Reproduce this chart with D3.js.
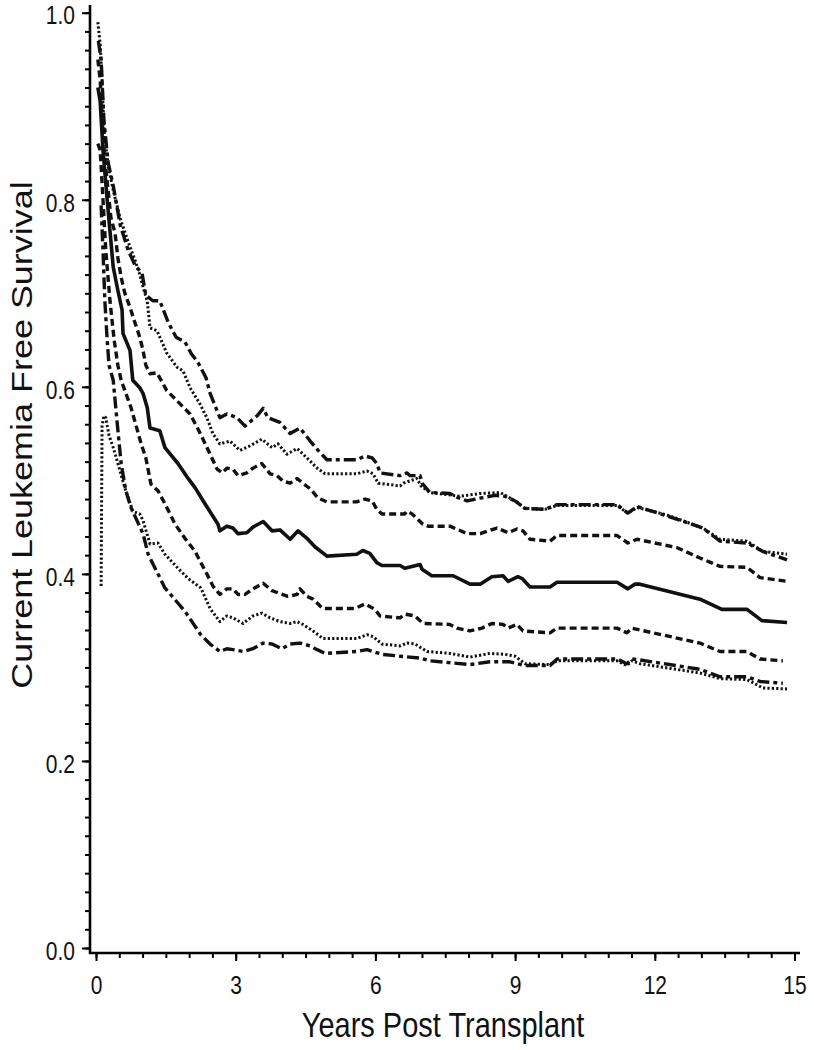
<!DOCTYPE html>
<html><head><meta charset="utf-8">
<script src="https://cdn.jsdelivr.net/npm/d3@7"></script>
<style>body{margin:0;background:#fff}</style>
</head><body><svg id="c" width="814" height="1050"></svg>
<script>
const xTicks = [0, 3, 6, 9, 12, 15];
const yTicks = [0.0, 0.2, 0.4, 0.6, 0.8, 1.0];
const xLabel = "Years Post Transplant";
const yLabel = "Current Leukemia Free Survival";

// [years, survival]
const estimate = [[0.04,0.92],[0.09,0.905],[0.15,0.853],[0.24,0.80],[0.37,0.728],[0.47,0.703],[0.56,0.682],[0.58,0.657],[0.73,0.639],[0.79,0.607],[0.94,0.599],[1.01,0.593],[1.10,0.578],[1.16,0.556],[1.37,0.553],[1.48,0.535],[1.76,0.518],[1.95,0.504],[2.13,0.492],[2.34,0.475],[2.62,0.453],[2.66,0.446],[2.81,0.451],[2.94,0.449],[3.05,0.443],[3.24,0.444],[3.37,0.450],[3.59,0.456],[3.78,0.446],[3.95,0.447],[4.17,0.437],[4.34,0.446],[4.53,0.438],[4.70,0.429],[4.96,0.419],[5.60,0.421],[5.73,0.425],[5.88,0.422],[6.03,0.412],[6.14,0.409],[6.53,0.409],[6.63,0.406],[6.96,0.410],[7.00,0.405],[7.21,0.398],[7.67,0.398],[8.03,0.389],[8.25,0.389],[8.50,0.397],[8.74,0.398],[8.85,0.392],[9.06,0.397],[9.15,0.395],[9.32,0.386],[9.75,0.386],[9.90,0.391],[11.19,0.391],[11.42,0.384],[11.57,0.389],[11.68,0.389],[12.97,0.373],[13.44,0.362],[13.98,0.362],[14.30,0.350],[14.84,0.348]];

const upperDashed = [[0.04,0.95],[0.09,0.928],[0.17,0.853],[0.26,0.81],[0.32,0.781],[0.41,0.764],[0.47,0.738],[0.54,0.717],[0.62,0.70],[0.73,0.685],[0.84,0.668],[0.94,0.653],[1.01,0.639],[1.07,0.623],[1.16,0.614],[1.31,0.615],[1.52,0.596],[1.80,0.582],[2.02,0.571],[2.23,0.551],[2.45,0.528],[2.60,0.512],[2.71,0.508],[2.81,0.513],[2.94,0.512],[3.05,0.505],[3.24,0.508],[3.37,0.513],[3.56,0.518],[3.74,0.507],[3.89,0.505],[4.02,0.499],[4.17,0.497],[4.32,0.502],[4.44,0.497],[4.60,0.491],[4.77,0.481],[4.96,0.477],[5.60,0.477],[5.78,0.480],[5.93,0.478],[6.03,0.469],[6.14,0.464],[6.63,0.464],[6.68,0.467],[6.79,0.464],[7.02,0.453],[7.13,0.451],[7.60,0.451],[7.97,0.443],[8.25,0.443],[8.61,0.449],[8.85,0.444],[9.04,0.448],[9.17,0.446],[9.32,0.437],[9.75,0.435],[9.90,0.441],[11.19,0.441],[11.42,0.433],[11.62,0.437],[12.48,0.428],[12.97,0.417],[13.40,0.408],[13.98,0.407],[14.26,0.396],[14.84,0.392]];

const lowerDashed = [[0.04,0.86],[0.09,0.853],[0.15,0.80],[0.21,0.746],[0.30,0.692],[0.39,0.650],[0.47,0.623],[0.54,0.607],[0.75,0.578],[0.97,0.539],[1.07,0.524],[1.18,0.496],[1.33,0.489],[1.48,0.475],[1.70,0.453],[1.91,0.438],[2.13,0.424],[2.23,0.414],[2.38,0.400],[2.51,0.387],[2.66,0.378],[2.81,0.384],[2.94,0.384],[3.05,0.378],[3.20,0.378],[3.37,0.384],[3.59,0.390],[3.78,0.382],[3.95,0.379],[4.12,0.376],[4.32,0.378],[4.38,0.384],[4.53,0.376],[4.66,0.373],[4.87,0.363],[5.56,0.363],[5.78,0.368],[5.99,0.362],[6.10,0.355],[6.53,0.353],[6.63,0.357],[6.85,0.355],[7.02,0.347],[7.60,0.346],[7.75,0.342],[8.03,0.339],[8.29,0.342],[8.50,0.347],[8.74,0.346],[8.85,0.342],[9.04,0.346],[9.17,0.339],[9.75,0.337],[9.90,0.342],[11.19,0.342],[11.40,0.337],[11.51,0.342],[11.68,0.340],[12.97,0.326],[13.40,0.317],[13.98,0.317],[14.26,0.309],[14.75,0.307]];

const upperDotted = [[0.04,0.99],[0.09,0.966],[0.13,0.928],[0.17,0.875],[0.26,0.837],[0.37,0.81],[0.52,0.78],[0.69,0.755],[0.84,0.735],[0.94,0.72],[1.02,0.705],[1.10,0.692],[1.16,0.663],[1.31,0.660],[1.52,0.636],[1.74,0.621],[1.87,0.617],[2.02,0.599],[2.23,0.582],[2.38,0.567],[2.51,0.550],[2.66,0.539],[2.88,0.542],[3.09,0.532],[3.31,0.537],[3.56,0.544],[3.78,0.535],[3.91,0.539],[4.10,0.528],[4.32,0.534],[4.53,0.524],[4.75,0.513],[4.92,0.507],[5.60,0.507],[5.82,0.510],[5.95,0.507],[6.06,0.497],[6.53,0.494],[6.60,0.497],[6.89,0.502],[6.98,0.494],[7.17,0.487],[7.82,0.483],[8.25,0.486],[8.68,0.487],[9.00,0.478],[9.21,0.470],[9.64,0.469],[9.90,0.473],[11.19,0.473],[11.42,0.465],[11.62,0.471],[12.26,0.463],[13.03,0.449],[13.40,0.437],[13.98,0.435],[14.32,0.424],[14.84,0.421]];

const lowerDotted = [[0.11,0.387],[0.13,0.558],[0.17,0.569],[0.21,0.567],[0.28,0.548],[0.37,0.535],[0.47,0.518],[0.62,0.492],[0.79,0.467],[0.94,0.464],[1.01,0.457],[1.16,0.432],[1.33,0.433],[1.48,0.421],[1.76,0.406],[1.98,0.395],[2.25,0.385],[2.45,0.363],[2.66,0.349],[2.81,0.355],[2.94,0.353],[3.16,0.347],[3.37,0.355],[3.56,0.358],[3.74,0.353],[3.95,0.349],[4.17,0.347],[4.32,0.349],[4.44,0.346],[4.66,0.339],[4.87,0.331],[5.60,0.331],[5.82,0.335],[5.95,0.333],[6.14,0.325],[6.53,0.323],[6.68,0.326],[6.85,0.325],[7.11,0.317],[7.60,0.315],[8.03,0.311],[8.46,0.315],[8.78,0.314],[9.00,0.312],[9.21,0.304],[9.75,0.303],[9.90,0.307],[11.19,0.307],[11.40,0.302],[11.51,0.307],[11.68,0.304],[12.97,0.294],[13.40,0.288],[13.98,0.287],[14.32,0.278],[14.84,0.277]];

const upperDashDot = [[0.05,0.97],[0.11,0.95],[0.17,0.885],[0.26,0.84],[0.37,0.815],[0.52,0.773],[0.69,0.746],[0.84,0.73],[0.99,0.721],[1.07,0.698],[1.22,0.692],[1.37,0.692],[1.55,0.669],[1.72,0.653],[1.91,0.648],[2.04,0.636],[2.19,0.626],[2.36,0.610],[2.45,0.593],[2.66,0.567],[2.81,0.571],[3.03,0.567],[3.20,0.558],[3.46,0.569],[3.59,0.577],[3.69,0.567],[3.95,0.562],[4.17,0.550],[4.38,0.556],[4.60,0.542],[4.77,0.532],[4.96,0.522],[5.60,0.522],[5.78,0.526],[5.93,0.524],[6.03,0.518],[6.10,0.508],[6.53,0.505],[6.68,0.508],[6.74,0.505],[6.96,0.505],[7.00,0.497],[7.17,0.487],[7.60,0.486],[7.75,0.482],[7.97,0.478],[8.25,0.481],[8.57,0.484],[8.78,0.483],[9.00,0.478],[9.21,0.470],[9.64,0.469],[9.90,0.474],[11.19,0.474],[11.42,0.465],[11.62,0.472],[12.26,0.462],[12.75,0.454],[13.03,0.449],[13.40,0.435],[13.98,0.433],[14.32,0.424],[14.84,0.415]];

const lowerDashDot = [[0.11,0.794],[0.15,0.746],[0.19,0.692],[0.24,0.650],[0.28,0.623],[0.37,0.607],[0.45,0.564],[0.54,0.518],[0.64,0.489],[0.75,0.471],[1.01,0.443],[1.12,0.421],[1.48,0.385],[1.91,0.360],[2.25,0.335],[2.45,0.325],[2.66,0.317],[2.81,0.320],[2.94,0.319],[3.16,0.317],[3.37,0.320],[3.59,0.326],[3.78,0.325],[3.99,0.320],[4.17,0.325],[4.38,0.326],[4.60,0.323],[4.75,0.319],[4.92,0.315],[5.60,0.317],[5.82,0.319],[5.95,0.317],[6.14,0.314],[6.53,0.312],[6.96,0.310],[7.17,0.307],[8.03,0.303],[8.46,0.306],[8.89,0.306],[9.21,0.302],[9.75,0.302],[9.90,0.309],[11.19,0.309],[11.40,0.304],[11.51,0.309],[11.68,0.308],[12.97,0.298],[13.40,0.290],[13.98,0.290],[14.26,0.285],[14.75,0.283]];

const series = [
  {data: estimate, dash: null, w: 3.6},
  {data: upperDashed, dash: "7,4", w: 3.4},
  {data: lowerDashed, dash: "7,4", w: 3.4},
  {data: upperDotted, dash: "2.2,2.2", w: 3},
  {data: lowerDotted, dash: "2.2,2.2", w: 3},
  {data: upperDashDot, dash: "12,4,4,4", w: 3.4},
  {data: lowerDashDot, dash: "12,4,4,4", w: 3.4}
];

const svg = d3.select("#c");
const x = d3.scaleLinear().domain([0, 15]).range([96, 794.5]);
const y = d3.scaleLinear().domain([0, 1]).range([948, 12.7]);
const font = "'Liberation Sans', Arial, Helvetica, sans-serif";
const axisX0 = 90, axisY0 = 953;
const stretch = 1.22;

// Y axis
const gy = svg.append("g").attr("transform", `translate(${axisX0},0)`);
gy.call(d3.axisLeft(y).tickValues(d3.range(0, 1.0001, 0.02)).tickSize(5).tickFormat(""));
gy.call(g => g.select(".domain").remove());
const gyM = svg.append("g").attr("transform", `translate(${axisX0},0)`);
gyM.call(d3.axisLeft(y).tickValues(yTicks).tickSize(8).tickPadding(7).tickFormat(d3.format(".1f")));
gyM.call(g => g.select(".domain").remove());
gyM.selectAll("text").attr("font-family", font).attr("font-size", 21).attr("fill", "#111")
  .attr("dy", "0.44em").attr("transform", `scale(1,${stretch})`);
svg.append("line").attr("x1", axisX0).attr("x2", axisX0).attr("y1", 5).attr("y2", axisY0 + 1)
  .attr("stroke", "#000").attr("stroke-width", 2.6);

// X axis
const gx = svg.append("g").attr("transform", `translate(0,${axisY0})`);
gx.call(d3.axisBottom(x).tickValues(d3.range(0, 15.001, 0.5)).tickSize(5).tickFormat(""));
gx.call(g => g.select(".domain").remove());
const gxM = svg.append("g").attr("transform", `translate(0,${axisY0})`);
gxM.call(d3.axisBottom(x).tickValues(xTicks).tickSize(8).tickPadding(11).tickFormat(d3.format("d")));
gxM.call(g => g.select(".domain").remove());
gxM.selectAll("text").attr("font-family", font).attr("font-size", 21).attr("fill", "#111")
  .attr("transform", `scale(1,${stretch})`);
svg.append("line").attr("x1", axisX0 - 1).attr("x2", 800).attr("y1", axisY0).attr("y2", axisY0)
  .attr("stroke", "#000").attr("stroke-width", 2.6);
svg.selectAll("g .tick line").attr("stroke", "#000").attr("stroke-width", 2);

// Titles
svg.append("text").attr("transform", `translate(443,1037) scale(1,${stretch})`).attr("text-anchor", "middle")
  .attr("font-family", font).attr("font-size", 29).attr("fill", "#111").text(xLabel);
svg.append("text").attr("transform", `translate(32,435) rotate(-90) scale(${stretch + 0.02},1)`).attr("text-anchor", "middle")
  .attr("font-family", font).attr("font-size", 29).attr("fill", "#111").text(yLabel);

// Curves
const line = d3.line().x(d => x(d[0])).y(d => y(d[1]));
series.forEach(s => {
  svg.append("path").datum(s.data).attr("d", line).attr("fill", "none")
    .attr("stroke", "#111").attr("stroke-width", s.w)
    .attr("stroke-dasharray", s.dash).attr("stroke-linejoin", "round");
});
</script></body></html>
